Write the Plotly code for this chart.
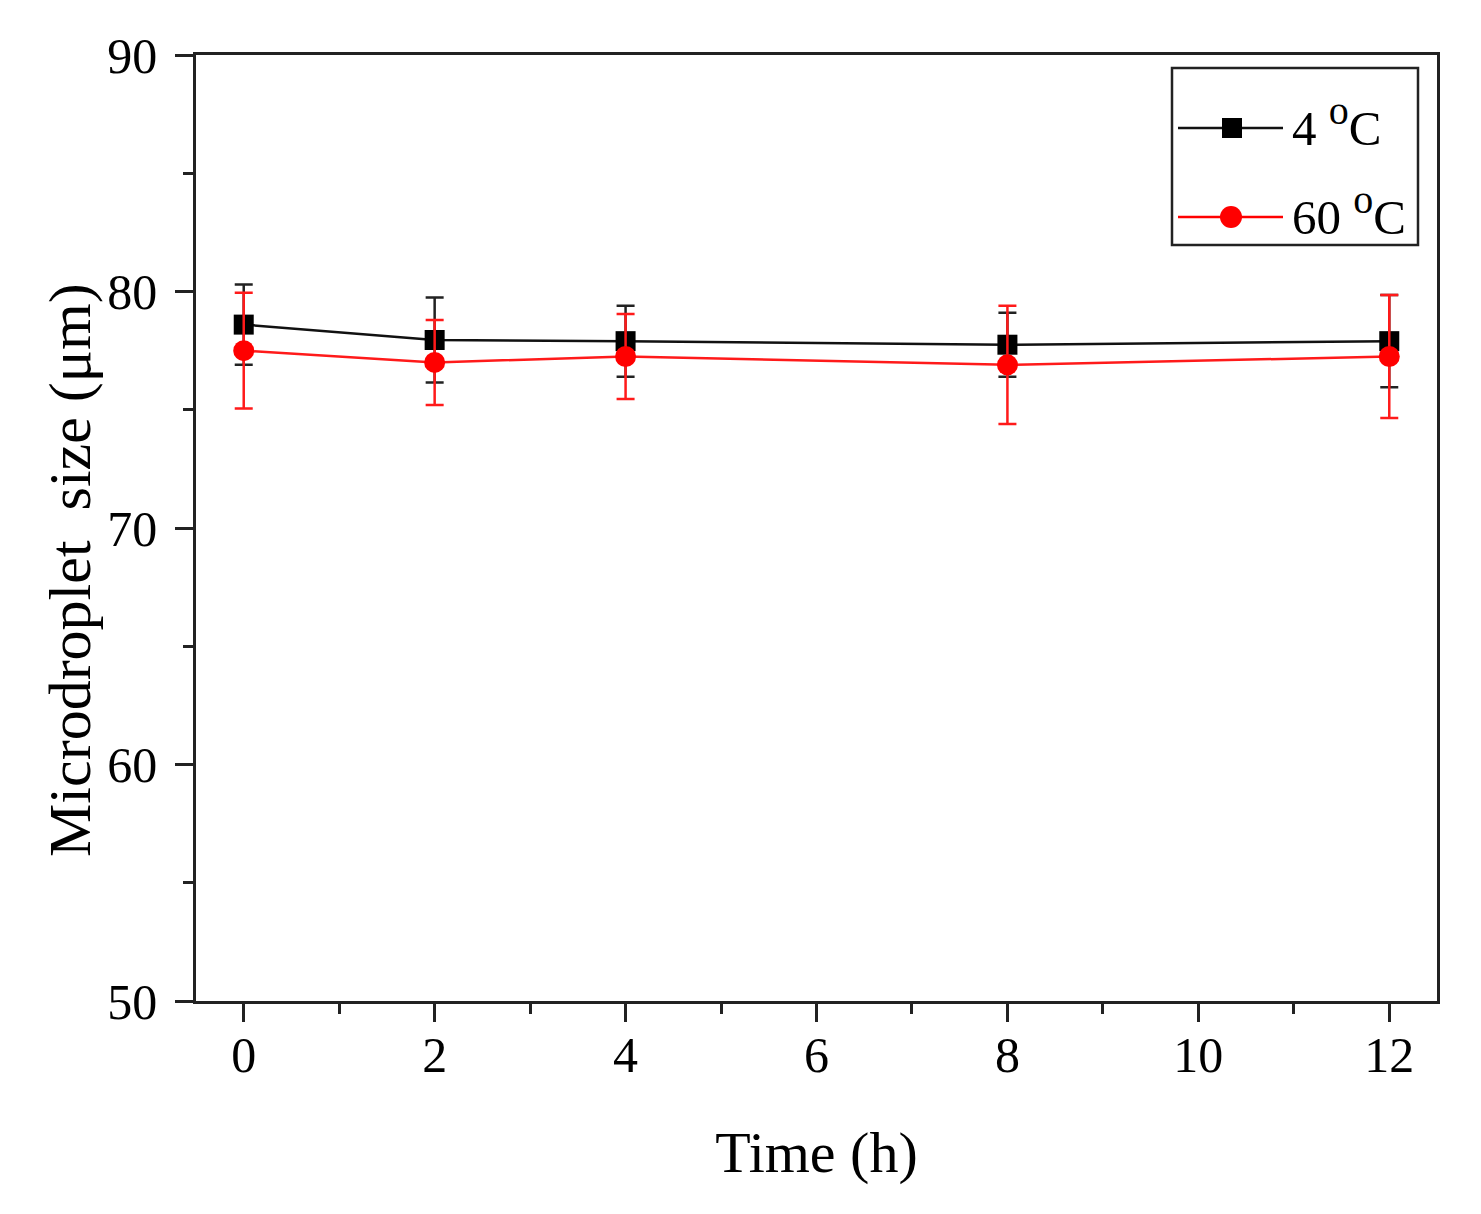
import plotly.graph_objects as go

# storage time (h)
time_h = [0, 2, 4, 8, 12]

# microdroplet size (um) and error
size_4c = [78.6, 77.95, 77.9, 77.75, 77.9]
err_4c = [1.7, 1.8, 1.5, 1.35, 1.95]

size_60c = [77.5, 77.0, 77.25, 76.9, 77.25]
err_60c = [2.45, 1.8, 1.8, 2.5, 2.6]

y_ticks = [50, 60, 70, 80, 90]
x_ticks = [0, 2, 4, 6, 8, 10, 12]

sup_o = "<sup><span style='font-size:40px'>o</span></sup>"
series_names = ["4 " + sup_o + "C", "60 " + sup_o + "C"]
series_colors = ["#111111", "#ff0000"]

font_family = "Liberation Serif, Times New Roman, serif"

# plot area (px, in figure coordinates)
L, T, R, B = 188, 47, 52, 221
W, H = 1481, 1214
pw, ph = W - L - R, H - T - B


def px(x):
    return (x - L) / pw


def py(y):
    return (H - B - y) / ph


data = [
    go.Scatter(
        x=time_h,
        y=size_4c,
        name="4 oC",
        mode="lines+markers",
        line={"color": series_colors[0], "width": 2.5},
        marker={"color": "black", "size": 20, "symbol": "square"},
        error_y={"type": "data", "array": err_4c, "visible": True,
                 "color": "#222222", "thickness": 2.5, "width": 9},
        showlegend=False,
    ),
    go.Scatter(
        x=time_h,
        y=size_60c,
        name="60 oC",
        mode="lines+markers",
        line={"color": "#ff1a1a", "width": 2.5},
        marker={"color": series_colors[1], "size": 21, "symbol": "circle"},
        error_y={"type": "data", "array": err_60c, "visible": True,
                 "color": "#ff1a1a", "thickness": 2.5, "width": 9},
        showlegend=False,
    ),
]

axis_common = dict(
    showline=True,
    linecolor="#222222",
    linewidth=2.5,
    mirror=True,
    showgrid=False,
    zeroline=False,
    ticks="outside",
    ticklen=18,
    tickwidth=2.5,
    tickcolor="#222222",
    tickfont={"family": font_family, "size": 50, "color": "black"},
)

# hand-drawn legend box (long sample lines like the original)
shapes = [
    dict(type="rect", xref="paper", yref="paper",
         x0=px(1164), x1=px(1410), y0=py(237), y1=py(60),
         line={"color": "#222222", "width": 2.5}, fillcolor="white", layer="above"),
]
annotations = []
rows = [120, 209]
for i, yy in enumerate(rows):
    shapes.append(dict(type="line", xref="paper", yref="paper",
                       x0=px(1170), x1=px(1275), y0=py(yy), y1=py(yy),
                       line={"color": series_colors[i] if i else "#111111", "width": 2.5},
                       layer="above"))
    if i == 0:
        shapes.append(dict(type="rect", xref="paper", yref="paper",
                           x0=px(1214), x1=px(1234), y0=py(yy + 10), y1=py(yy - 10),
                           line={"width": 0}, fillcolor="black", layer="above"))
    else:
        shapes.append(dict(type="circle", xref="paper", yref="paper",
                           x0=px(1212), x1=px(1234), y0=py(yy + 11), y1=py(yy - 11),
                           line={"width": 0}, fillcolor=series_colors[1], layer="above"))
    annotations.append(dict(xref="paper", yref="paper", x=px(1282), y=py(yy - 6),
                            xanchor="left", yanchor="middle", showarrow=False,
                            text=series_names[i],
                            font={"family": font_family, "size": 49, "color": "black"}))

# y axis title placed as annotation (it sits a bit below the plot centre)
annotations.append(dict(xref="paper", yref="paper", x=px(62), y=py(562),
                        xanchor="center", yanchor="middle", showarrow=False,
                        textangle=-90, text="Microdroplet  size (\u03bcm)",
                        font={"family": font_family, "size": 60, "color": "black"}))

layout = go.Layout(
    width=W,
    height=H,
    paper_bgcolor="white",
    plot_bgcolor="white",
    margin={"l": L, "r": R, "t": T, "b": B},
    font={"family": font_family, "color": "black"},
    xaxis=dict(
        axis_common,
        range=[-0.5, 12.5],
        tickvals=x_ticks,
        ticklabelstandoff=-10,
        minor={"dtick": 1, "ticks": "outside", "ticklen": 10,
               "tickwidth": 2.5, "tickcolor": "#222222"},
        title={"text": "Time (h)", "font": {"family": font_family, "size": 58},
               "standoff": 50},
    ),
    yaxis=dict(
        axis_common,
        range=[50, 90],
        tickvals=y_ticks,
        ticklabelstandoff=8,
        minor={"dtick": 5, "ticks": "outside", "ticklen": 10,
               "tickwidth": 2.5, "tickcolor": "#222222"},
    ),
    shapes=shapes,
    annotations=annotations,
    showlegend=False,
)

fig = go.Figure(data=data, layout=layout)
fig.write_html("out.html")
